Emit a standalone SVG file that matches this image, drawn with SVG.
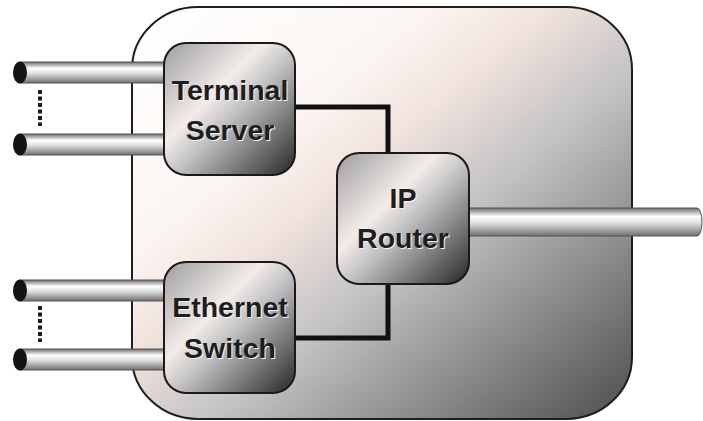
<svg xmlns="http://www.w3.org/2000/svg" width="703" height="421" viewBox="0 0 703 421">
<defs>
<linearGradient id="gOuter" x1="0" y1="0" x2="1" y2="1">
<stop offset="0" stop-color="#ffffff"/>
<stop offset="0.3" stop-color="#fbf5f2"/>
<stop offset="0.42" stop-color="#f1e3dd"/>
<stop offset="0.58" stop-color="#c3c2c4"/>
<stop offset="1" stop-color="#4f4c4c"/>
</linearGradient>
<linearGradient id="gNode" x1="0" y1="0" x2="1" y2="1">
<stop offset="0" stop-color="#9d9d9f"/>
<stop offset="0.38" stop-color="#f3ece9"/>
<stop offset="0.55" stop-color="#bdbdbf"/>
<stop offset="1" stop-color="#262626"/>
</linearGradient>
<linearGradient id="gPipe" x1="0" y1="0" x2="0" y2="1">
<stop offset="0" stop-color="#6d6d6d"/>
<stop offset="0.3" stop-color="#ffffff"/>
<stop offset="0.55" stop-color="#dcdcdc"/>
<stop offset="1" stop-color="#707070"/>
</linearGradient>
<style>
.pipe{fill:url(#gPipe);stroke:#555;stroke-width:1}
.cap{fill:#141414}
.node{fill:url(#gNode);stroke:#1a1a1a;stroke-width:2}
.lbl{font-family:"Liberation Sans",Arial,sans-serif;font-weight:bold;font-size:28.5px;text-anchor:middle;fill:#1e1e1e}
.sh{fill:#f4f4f4}
.dots{stroke:#1c1c1c;stroke-width:4;stroke-dasharray:4 2.5}
.link{fill:none;stroke:#111;stroke-width:5}
</style>
</defs>
<g id="enclosure">
<rect x="132" y="7" width="500" height="412" rx="66" ry="62" fill="url(#gOuter)" stroke="#1e1e1e" stroke-width="2"/>
</g>
<g id="connectors">
<polyline class="link" points="295,107 388,107 388,154"/>
<polyline class="link" points="295,338 388,338 388,283"/>
</g>
<g id="pipes">
<rect class="pipe" x="20" y="62" width="146" height="21"/>
<ellipse class="cap" cx="20" cy="72.5" rx="7" ry="11"/>
<rect class="pipe" x="20" y="134" width="146" height="21"/>
<ellipse class="cap" cx="20" cy="144.5" rx="7" ry="11"/>
<line class="dots" x1="40" y1="90" x2="40" y2="126"/>
<rect class="pipe" x="20" y="280" width="146" height="21"/>
<ellipse class="cap" cx="20" cy="290.5" rx="7" ry="11"/>
<rect class="pipe" x="20" y="349" width="146" height="21"/>
<ellipse class="cap" cx="20" cy="359.5" rx="7" ry="11"/>
<line class="dots" x1="40" y1="306" x2="40" y2="342"/>
<path class="pipe" d="M467,208 H697 A5,14 0 0 1 697,236 H467 Z"/>
</g>
<g id="terminal-server">
<rect class="node" x="164" y="43" width="131" height="132" rx="22"/>
<text class="lbl sh" x="231" y="101">Terminal</text>
<text class="lbl" x="230" y="100">Terminal</text>
<text class="lbl sh" x="231" y="141">Server</text>
<text class="lbl" x="230" y="140">Server</text>
</g>
<g id="ethernet-switch">
<rect class="node" x="164" y="262" width="131" height="131" rx="22"/>
<text class="lbl sh" x="231" y="318">Ethernet</text>
<text class="lbl" x="230" y="317">Ethernet</text>
<text class="lbl sh" x="231" y="359">Switch</text>
<text class="lbl" x="230" y="358">Switch</text>
</g>
<g id="ip-router">
<rect class="node" x="337" y="153" width="132" height="131" rx="22"/>
<text class="lbl sh" x="404" y="209">IP</text>
<text class="lbl" x="403" y="208">IP</text>
<text class="lbl sh" x="404" y="249">Router</text>
<text class="lbl" x="403" y="248">Router</text>
</g>
</svg>
